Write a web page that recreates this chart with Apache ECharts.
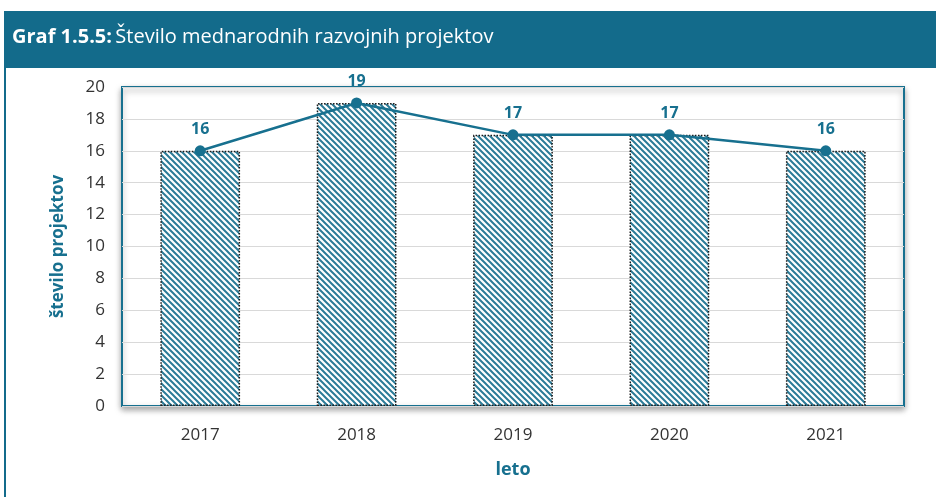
<!DOCTYPE html>
<html>
<head>
<meta charset="utf-8">
<script src="https://cdn.jsdelivr.net/npm/echarts@6/dist/echarts.min.js"></script>
<style>
  html, body { margin: 0; padding: 0; background: #fff; }
  #chart { width: 936px; height: 497px; }
</style>
</head>
<body>
<div id="chart"></div>
<script>
const years = ["2017", "2018", "2019", "2020", "2021"];
const projects = [16, 19, 17, 17, 16];
const yTicks = { min: 0, max: 20, interval: 2 };

const teal = "#17708f";
const textFont = "'Open Sans', 'Noto Sans', sans-serif";

// diagonal hatch for the bars
function hatch() {
  const c = document.createElement("canvas");
  c.width = 6;
  c.height = 6;
  const g = c.getContext("2d");
  g.fillStyle = "#fff";
  g.fillRect(0, 0, 6, 6);
  g.strokeStyle = "#2b7b98";
  g.lineWidth = 2;
  g.beginPath();
  g.moveTo(-1, -1); g.lineTo(7, 7);
  g.moveTo(-4, 2); g.lineTo(2, 8);
  g.moveTo(2, -4); g.lineTo(8, 2);
  g.stroke();
  return c;
}

const chart = echarts.init(document.getElementById("chart"));
chart.setOption({
  animation: false,
  graphic: [
    { type: "rect", shape: { x: 4, y: 11, width: 932, height: 57 }, style: { fill: "#136b8b" } },
    { type: "line", shape: { x1: 5, y1: 68, x2: 5, y2: 497 }, style: { stroke: "#136b8b", lineWidth: 2 } },
    {
      type: "text", left: 12, top: 27,
      style: {
        text: "{b|Graf 1.5.5:} {n|Število mednarodnih razvojnih projektov}",
        rich: {
          b: { fill: "#fff", fontWeight: "bold", fontSize: 20, fontFamily: textFont },
          n: { fill: "#fff", fontSize: 20, fontFamily: textFont }
        }
      }
    }
  ],
  grid: {
    left: 122, right: 32, top: 87, bottom: 91,
    show: true, backgroundColor: "#fff",
    borderColor: teal, borderWidth: 2,
    shadowColor: "rgba(0,0,0,0.35)", shadowBlur: 6, shadowOffsetY: 3
  },
  xAxis: {
    type: "category",
    data: years,
    axisLine: { show: false },
    axisTick: { show: false },
    axisLabel: { color: "#333", fontSize: 17, margin: 21, fontFamily: textFont },
    name: "leto",
    nameLocation: "middle",
    nameGap: 55,
    nameTextStyle: { color: teal, fontWeight: "bold", fontSize: 18, fontFamily: textFont }
  },
  yAxis: {
    type: "value",
    min: yTicks.min, max: yTicks.max, interval: yTicks.interval,
    axisLine: { show: false },
    axisTick: { show: false },
    splitLine: { lineStyle: { color: "#d9d9d9", width: 1 } },
    axisLabel: { color: "#333", fontSize: 17, margin: 17, fontFamily: textFont },
    name: "število projektov",
    nameLocation: "middle",
    nameGap: 55,
    nameTextStyle: { color: teal, fontWeight: "bold", fontSize: 17, fontFamily: textFont }
  },
  series: [
    {
      type: "bar",
      data: projects,
      barWidth: "51%",
      itemStyle: {
        color: { image: hatch(), repeat: "repeat" },
        borderColor: "#1a1a1a",
        borderWidth: 1.5,
        borderType: "dotted"
      }
    },
    {
      type: "line",
      data: projects,
      symbol: "circle",
      symbolSize: 11,
      lineStyle: { color: teal, width: 2.5 },
      itemStyle: { color: teal },
      label: {
        show: true, position: "top", distance: 8,
        color: teal, fontWeight: "bold", fontSize: 16, fontFamily: textFont
      },
      z: 5
    }
  ]
});
</script>
</body>
</html>
